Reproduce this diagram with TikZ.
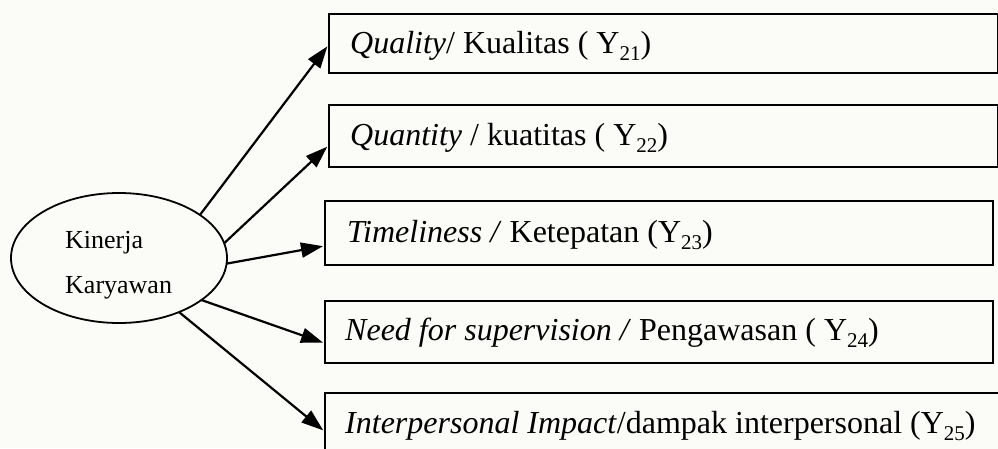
\documentclass[tikz,border=0pt]{standalone}
\usepackage{fontspec}
\setmainfont{Liberation Serif}
\usetikzlibrary{arrows.meta,calc,shapes.geometric}
\definecolor{bg}{RGB}{251,251,247}
\newcommand{\sbs}[1]{\raisebox{-0.22em}{\fontsize{21}{24}\selectfont #1}}
\tikzset{
  box/.style={draw, line width=2pt, fill=bg, inner sep=0pt, anchor=north west},
  lbl/.style={anchor=base west, inner sep=0pt, font=\fontsize{32}{38}\selectfont},
  elbl/.style={anchor=base west, inner sep=0pt, font=\fontsize{26}{31}\selectfont},
  conn/.style={line width=2.2pt, -{Triangle[length=22pt,width=15pt]}, shorten >=1pt},
}
\begin{document}
\begin{tikzpicture}[x=1pt,y=-1pt]
\clip (0,0) rectangle (998,448);
\fill[bg] (0,0) rectangle (998,448);
% ellipse
\node[draw, ellipse, line width=1.8pt, minimum width=216, minimum height=130, inner sep=0pt, outer sep=0pt] (ell) at (119,258) {};
\node[elbl] (k1) at (65,248) {Kinerja};
\node[elbl] (k2) at (65,293) {Karyawan};
% boxes
\node[box, minimum width=669, minimum height=59] (b1) at (328,13) {};
\node[box, minimum width=669, minimum height=62] (b2) at (328,104) {};
\node[box, minimum width=668, minimum height=64] (b3) at (324,200) {};
\node[box, minimum width=668, minimum height=62] (b4) at (324,300) {};
\node[box, minimum width=690, minimum height=62] (b5) at (324,392) {};
% texts
\node[lbl] (t1) at (350,53) {\textit{Quality}/ Kualitas ( Y\sbs{21})};
\node[lbl] (t2) at (350,145) {\textit{Quantity} / kuatitas ( Y\sbs{22})};
\node[lbl] (t3) at (347,242) {\textit{Timeliness /} Ketepatan (Y\sbs{23})};
\node[lbl] (t4) at (345,340) {\textit{Need for supervision /} Pengawasan ( Y\sbs{24})};
\node[lbl] (t5) at (345,433) {\textit{Interpersonal Impact}/dampak interpersonal (Y\sbs{25})};
% arrow targets
\coordinate (p1) at ($(b1.west)+(0,2)$);
\coordinate (p2) at ($(b2.west)+(0,10)$);
\coordinate (p3) at ($(b3.west)+(0,13)$);
\coordinate (p4) at ($(b4.west)+(0,11)$);
\coordinate (p5) at ($(b5.west)+(0,7)$);
% connectors
\draw[conn] (ell.28) -- (p1);
\draw[conn] (ell.8) -- (p2);
\draw[conn] (ell.-3) -- (p3);
\draw[conn] (ell.-27) -- (p4);
\draw[conn] (ell.-42) -- (p5);
\end{tikzpicture}
\end{document}
